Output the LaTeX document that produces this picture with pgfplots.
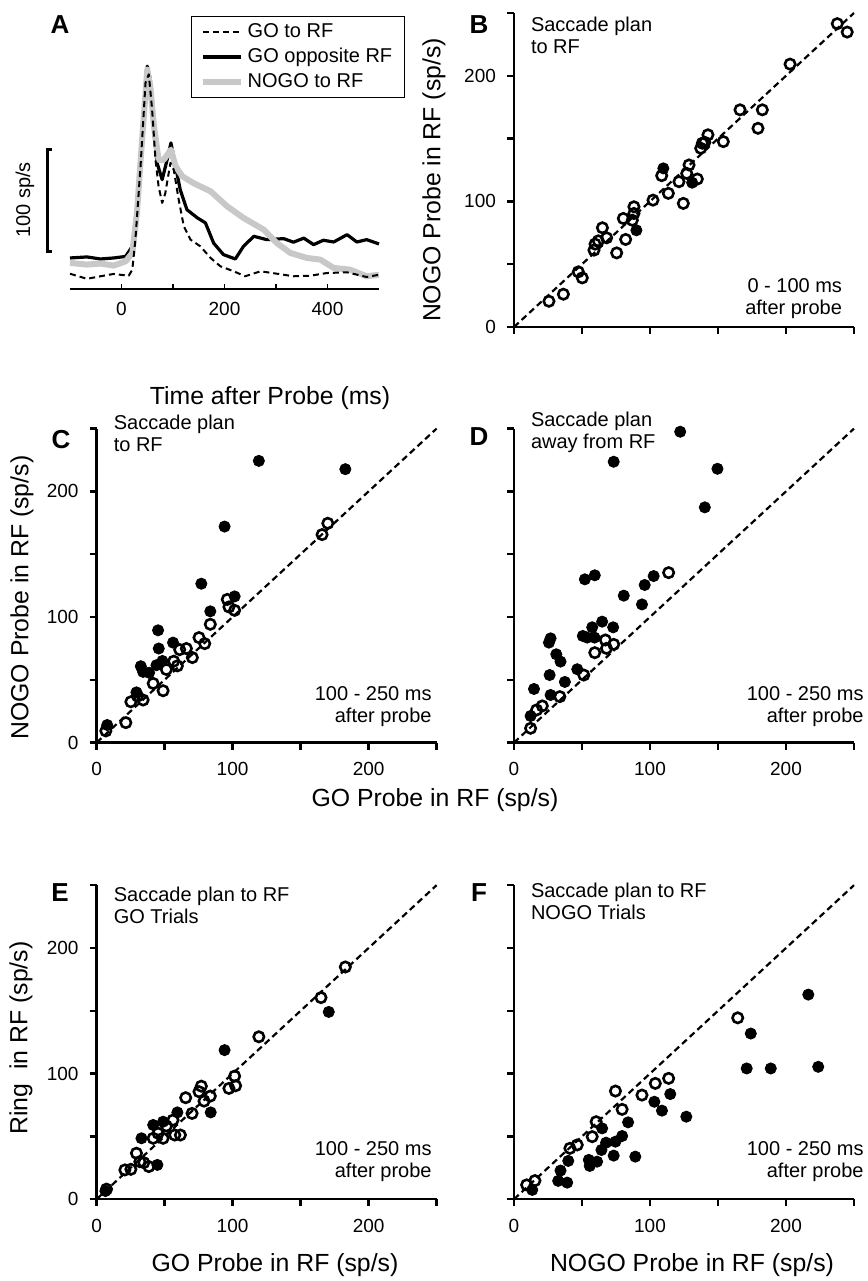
\documentclass[border=0pt]{standalone}
\usepackage{pgfplots}
\pgfplotsset{compat=1.18}
\usepackage{fontspec}
\setmainfont{Liberation Sans}
\definecolor{nogogray}{RGB}{200,200,200}
\newcommand{\lab}{\fontsize{12.4}{14}\selectfont}
\newcommand{\ann}{\fontsize{10}{10.9}\selectfont}
\newcommand{\pl}{\fontsize{13}{15}\selectfont\bfseries}
\pgfplotsset{
  /pgf/number format/assume math mode=true,
  sc/.style={scale only axis, width=170pt, height=157pt, anchor=south west,
    xmin=0, xmax=250, ymin=0, ymax=250,
    axis lines=left, axis line style={-, line width=1.2pt},
    every tick/.style={black, line width=1.2pt},
    tick align=outside, major tick length=3.5pt,
    xtick={0,50,...,250}, ytick={0,50,...,250},
    clip=false,
    tick label style={font=\fontsize{9.5}{11}\selectfont},
    xticklabel style={yshift=-3pt}, yticklabel style={xshift=-2pt}},
  xlab/.style={xticklabels={0,,100,,200,}},
  xnolab/.style={xticklabels={,,,,,}},
  ylab/.style={yticklabels={0,,100,,200,}},
  ynolab/.style={yticklabels={,,,,,}},
  openm/.style={only marks, mark=o, mark size=2.6pt, mark options={line width=1.3pt, black, solid}},
  fillm/.style={only marks, mark=*, mark size=2.8pt, black},
  diag/.style={black, line width=1.1pt, dash pattern=on 3.2pt off 2pt},
}
\begin{document}
\begin{tikzpicture}
\useasboundingbox (0,0) rectangle (434pt,640.5pt);

% ---------- A ----------
\begin{axis}[scale only axis, width=154.5pt, height=117pt, at={(35pt,496pt)}, anchor=south west,
  xmin=-100, xmax=500, ymin=0, ymax=230,
  axis x line=bottom, axis y line=none, axis line style={-, line width=1.2pt},
  xtick={0,100,...,400}, xticklabels={0,,200,,400},
  every tick/.style={black, line width=0.8pt},
  tick align=inside, major tick length=2.5pt, clip=false,
  tick label style={font=\fontsize{9.5}{11}\selectfont}, xticklabel style={yshift=-3pt},
  legend style={at={(0.392,1.168)}, anchor=north west, draw=black, line width=0.6pt,
    font=\fontsize{10}{12}\selectfont, inner xsep=4pt, inner ysep=1.5pt, cells={anchor=west}},
  legend image code/.code={\draw[#1] (0pt,0pt) -- (19pt,0pt);}]
\addlegendimage{black, line width=1pt, dash pattern=on 3pt off 2pt}
\addlegendentry{GO to RF}
\addlegendimage{black, line width=1.6pt}
\addlegendentry{GO opposite RF}
\addlegendimage{nogogray, line width=3pt}
\addlegendentry{NOGO to RF}
\addplot[forget plot, black, line width=1.6pt, line join=round] coordinates {
(-100,30.5)(-67,31.5)(-41,29.5)(-15,30.5)(8,32)(21,42)(30,81)(40,153)(50,219)(56,206)(63,153)(69,124)(79,107.5)(88.6,127)(96,143.6)(105,120.7)(114,97.7)(127,78)(147,70)(163,65)(179,45)(198,33.8)(221,29.5)(237,42)(257,51.8)(282,48.5)(315,49.5)(334,46)(354,50)(373,43.6)(392,47.9)(412,46.2)(438,53.4)(457,46.2)(476,48.5)(500,44.3)};
\addplot[forget plot, nogogray, line width=3pt, line join=round] coordinates {
(-100,25.6)(-67,24)(-41,25)(-15,23)(8,27.2)(21,35.4)(30,74.8)(40,147)(50,215.7)(56,199)(63,160)(72,127)(82,127)(96,137)(105,120.7)(118,110.8)(140,104)(173,96)(205,81.3)(237,69.8)(276,58.4)(302,45)(328,35.4)(360,30.5)(386,28.9)(412,20.7)(444,19)(476,12.5)(500,14)};
\addplot[forget plot, black, line width=1pt, dash pattern=on 3pt off 2pt, line join=round] coordinates {
(-100,15)(-67,10)(-41,12.5)(-15,14.8)(14,13)(21,19)(27,48.5)(37,120.7)(46.6,202.6)(53,211)(59.5,176)(66,127)(72,101)(79,84.6)(85,94)(95,124)(101.5,117)(111,88)(121,61.6)(134,48.5)(153,42)(173,30.5)(192,22.3)(218,17.4)(240,12.5)(270,17.4)(302,15)(334,12.5)(366,13)(399,15.7)(438,16.4)(476,11.8)(500,14)};
\draw[line width=1.2pt] (axis cs:-134,137) -- (axis cs:-144,137) -- (axis cs:-144,37) -- (axis cs:-134,37);
\end{axis}

% ---------- B ----------
\begin{axis}[sc, at={(257pt,477pt)}, xnolab, ylab]
\addplot[diag] coordinates {(0,0) (250,250)};
\addplot[openm] coordinates {(25.7,20.5)(36.3,26.1)(50.2,39.1)(47.3,43.9)(58.8,61.2)(59.6,66)(62,68.6)(65,79)(68.1,71)(75.5,59)(80.4,86.4)(82.1,69.7)(87,85)(88.2,90.4)(88.2,95.7)(102.2,101)(108.6,120.5)(113.5,106.4)(121.3,115.7)(124.5,98.4)(127,122.3)(128.7,129)(134.8,117.8)(137.3,142.3)(138.5,146.3)(140.3,147)(142.6,153)(153.9,147.6)(166.2,172.9)(179.4,158.2)(182.6,172.9)(203,209.3)(237.7,241.5)(245,234.8)};
\addplot[fillm] coordinates {(90,77)(109.8,126.3)(131,114.9)};
\end{axis}

% ---------- C ----------
\begin{axis}[sc, at={(48.3pt,269.2pt)}, xlab, ylab]
\addplot[diag] coordinates {(0,0) (250,250)};
\addplot[openm] coordinates {(170,174.6)(165.8,165.6)(96.1,114)(97.3,108)(101.5,105.3)(83.6,94.2)(75.3,83.6)(79.5,78.8)(66,74.9)(61.1,74)(70.4,67.7)(56.7,64.8)(59.4,61.1)(51.3,58.2)(41.6,47.1)(48.9,41.3)(30.1,37)(34.2,33.9)(25.2,32.5)(21.5,15.9)(6.8,9.3)};
\addplot[fillm] coordinates {(119.3,224.3)(182.9,217.7)(94.1,172)(77,126.5)(101.5,116.4)(83.6,104.5)(45.2,89.4)(45.7,74.9)(56.2,79.6)(48.4,65)(44,61.6)(32.5,60.8)(34.2,56.3)(38.6,55.6)(29.3,40)(7.8,14)};
\end{axis}

% ---------- D ----------
\begin{axis}[sc, at={(257pt,269.2pt)}, xlab, ynolab]
\addplot[diag] coordinates {(0,0) (250,250)};
\addplot[openm] coordinates {(113.7,135.3)(67.2,81.7)(73.3,78.2)(68,75)(59.4,71.6)(51.3,53.8)(33.7,36.6)(20.8,29.2)(16.6,26)(12.2,11.4)};
\addplot[fillm] coordinates {(122.2,247.5)(73.3,223.6)(149.6,218)(140.3,187.3)(52.1,130)(59.4,133.2)(102.7,132.6)(96.1,125.5)(80.7,117)(94.1,110)(64.8,96.3)(57.5,91.8)(72.9,91.8)(50.6,84.9)(53.8,83.6)(59.2,83.6)(26.9,83)(25.7,79.6)(31.1,70.3)(34.2,64.5)(46.5,58.4)(26.2,53.8)(37.4,48.3)(14.7,42.7)(26.9,37.9)(12.2,21.2)};
\end{axis}

% ---------- E ----------
\begin{axis}[sc, at={(48.3pt,40.9pt)}, xlab, ylab]
\addplot[diag] coordinates {(0,0) (250,250)};
\addplot[openm] coordinates {(182.9,184.9)(165,160.5)(119.3,129.3)(101.5,98)(97.3,88.2)(102.2,90.3)(77,90)(75.3,85.6)(65.5,80.8)(83.6,82.1)(79,78.1)(70.2,68.3)(56.2,63)(51.3,58.3)(45.2,52.5)(41.6,48.5)(48.9,48.5)(57.5,51.1)(61.6,51.1)(29.3,36.6)(31.8,29.9)(34.7,29.1)(38.4,26)(20.8,23.3)(25.2,23.8)(7.3,8)};
\addplot[fillm] coordinates {(94.1,118.7)(170.7,149.1)(83.9,69.1)(59.4,69.1)(41.6,59.1)(48.9,61.7)(33,48.5)(44.7,27.3)(6.5,6.5)};
\end{axis}

% ---------- F ----------
\begin{axis}[sc, at={(257pt,40.9pt)}, xlab, ynolab]
\addplot[diag] coordinates {(0,0) (250,250)};
\addplot[openm] coordinates {(164.5,144.4)(113.7,96.2)(103.9,92.2)(74.6,86.1)(94.1,82.9)(79.5,71.5)(60.4,61.7)(57.5,49.8)(46.5,43.2)(41.1,40.5)(15.4,14.8)(9.3,11.4)};
\addplot[fillm] coordinates {(216.4,162.9)(174.1,131.9)(171.1,104.1)(188.8,104.1)(223.7,105.4)(114.9,83.7)(103.2,77.6)(108.8,70.5)(126.7,65.7)(83.9,61.2)(79.5,50.3)(74.6,45.8)(64.8,56.4)(67.7,45)(64.3,39.2)(73.3,34.7)(89.2,33.9)(55,31.3)(61.1,29.9)(55.7,26.5)(39.9,30.5)(34.2,22.8)(32.5,14.6)(39.1,13.2)(13.4,7.4)};
\end{axis}

% ---------- text ----------
\node[font=\pl] at (30pt,628pt) {A};
\node[font=\pl] at (239.5pt,628pt) {B};
\node[font=\pl] at (30.5pt,420.5pt) {C};
\node[font=\pl] at (239.5pt,422pt) {D};
\node[font=\pl] at (30pt,194.2pt) {E};
\node[font=\pl] at (239.5pt,194.2pt) {F};

\node[font=\ann, rotate=90] at (12.5pt,540.5pt) {100 sp/s};
\node[font=\lab] at (135pt,441.5pt) {Time after Probe (ms)};
\node[font=\lab, rotate=90] at (217pt,550.5pt) {NOGO Probe in RF (sp/s)};
\node[font=\lab, rotate=90] at (11pt,341.7pt) {NOGO Probe in RF (sp/s)};
\node[font=\lab] at (217.5pt,240.5pt) {GO Probe in RF (sp/s)};
\node[font=\lab, rotate=90] at (10.5pt,121.5pt) {Ring\ \ in RF (sp/s)};
\node[font=\lab] at (137.5pt,8pt) {GO Probe in RF (sp/s)};
\node[font=\lab] at (346pt,8pt) {NOGO Probe in RF (sp/s)};

\node[font=\ann, align=left, anchor=north west, inner sep=0pt] at (265.3pt,632.2pt) {Saccade plan\\to RF};
\node[font=\ann, align=right, anchor=south east, inner sep=0pt] at (421.2pt,481pt) {0 - 100 ms\\after probe};
\node[font=\ann, align=left, anchor=north west, inner sep=0pt] at (56.7pt,433pt) {Saccade plan\\to RF};
\node[font=\ann, align=right, anchor=south east, inner sep=0pt] at (216pt,277.2pt) {100 - 250 ms\\after probe};
\node[font=\ann, align=left, anchor=north west, inner sep=0pt] at (265.3pt,434.7pt) {Saccade plan\\away from RF};
\node[font=\ann, align=right, anchor=south east, inner sep=0pt] at (432pt,277.2pt) {100 - 250 ms\\after probe};
\node[font=\ann, align=left, anchor=north west, inner sep=0pt] at (56.7pt,197.2pt) {Saccade plan to RF\\GO Trials};
\node[font=\ann, align=right, anchor=south east, inner sep=0pt] at (216pt,49.6pt) {100 - 250 ms\\after probe};
\node[font=\ann, align=left, anchor=north west, inner sep=0pt] at (265.3pt,199pt) {Saccade plan to RF\\NOGO Trials};
\node[font=\ann, align=right, anchor=south east, inner sep=0pt] at (432pt,49.6pt) {100 - 250 ms\\after probe};
\end{tikzpicture}
\end{document}
